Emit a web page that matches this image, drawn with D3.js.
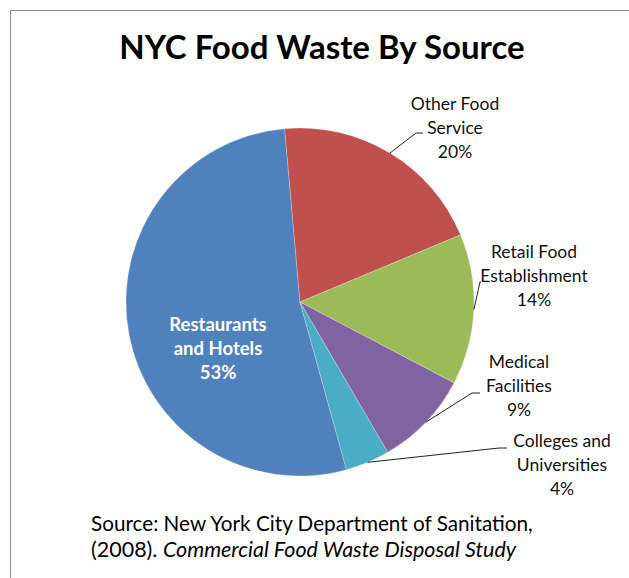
<!DOCTYPE html>
<html lang="en">
<head>
<meta charset="UTF-8">
<title>NYC Food Waste By Source</title>
<script src="https://d3js.org/d3.v7.min.js"></script>
<style>
  body {
    margin: 0;
    padding: 0;
    background-color: #ffffff;
    font-family: Lato, "Open Sans", sans-serif;
  }
  svg { display: block; }
  .label { font-size: 17.5px; fill: #111; }
</style>
</head>
<body>
<div id="chart"></div>
<script>
  // Data (clockwise, Restaurants first)
  const categories = ["Restaurants and Hotels", "Other Food Service", "Retail Food Establishment",
                      "Medical Facilities", "Colleges and Universities"];
  const shares = [52.9, 20.1, 14.0, 8.9, 4.1];
  const colors = ["#4F81BD", "#C0504D", "#9BBB59", "#8064A2", "#4BACC6"];

  // Label layout: text lines, anchor position, and where the leader line bends
  const labelLayout = [
    { lines: ["Restaurants", "and Hotels"], x: 218, y: 331, inside: true },
    { lines: ["Other Food", "Service"], x: 455, y: 110, elbow: [416, 133], end: [423, 133] },
    { lines: ["Retail Food", "Establishment"], x: 534, y: 258, elbow: [480, 282], end: [481, 282] },
    { lines: ["Medical", "Facilities"], x: 519, y: 368, elbow: [472, 393], end: [480, 393] },
    { lines: ["Colleges and", "Universities"], x: 562, y: 447, elbow: [499, 448], end: [507, 448] }
  ];

  const width = 629, height = 578;
  const cx = 300, cy = 302, radius = 174;
  const lineH = 24;
  const rot = 164.5 * Math.PI / 180;

  const svg = d3.select("#chart").append("svg")
      .attr("width", width)
      .attr("height", height);

  // chart frame
  svg.append("rect")
      .attr("x", 10.5).attr("y", 10.5)
      .attr("width", 800).attr("height", 800)
      .attr("fill", "#fff")
      .attr("stroke", "#8c8c8c")
      .attr("stroke-width", 1);

  svg.append("text")
      .attr("x", 322)
      .attr("y", 59)
      .attr("text-anchor", "middle")
      .style("font-size", "33px")
      .style("font-weight", "bold")
      .style("fill", "#000")
      .text("NYC Food Waste By Source");

  const data = categories.map((c, i) => ({ label: c, value: shares[i], color: colors[i], layout: labelLayout[i] }));

  const pie = d3.pie().value(d => d.value).sort(null)
      .startAngle(rot).endAngle(rot + 2 * Math.PI);
  const arc = d3.arc().innerRadius(0).outerRadius(radius);

  const g = svg.append("g").attr("transform", `translate(${cx},${cy})`);
  const arcs = pie(data);

  g.selectAll("path")
      .data(arcs)
      .enter()
      .append("path")
      .attr("d", arc)
      .attr("fill", d => d.data.color)
      .attr("stroke", "#fff")
      .attr("stroke-width", 0.4)
      .attr("stroke-opacity", 0.6);

  function midAngle(d) {
      return d.startAngle + (d.endAngle - d.startAngle) / 2;
  }

  // leader lines start on the rim at the slice's mid angle
  svg.selectAll("polyline")
      .data(arcs.filter(d => !d.data.layout.inside))
      .enter()
      .append("polyline")
      .attr("points", d => {
          const a = midAngle(d);
          const p = [cx + radius * Math.sin(a), cy - radius * Math.cos(a)];
          return [p, d.data.layout.elbow, d.data.layout.end].join(" ");
      })
      .attr("fill", "none")
      .attr("stroke", "#222")
      .attr("stroke-width", 1);

  const labels = svg.selectAll("text.label")
      .data(arcs)
      .enter()
      .append("text")
      .attr("class", "label")
      .attr("text-anchor", "middle")
      .style("font-weight", d => d.data.layout.inside ? "bold" : "normal")
      .style("font-size", d => d.data.layout.inside ? "18.5px" : null)
      .style("fill", d => d.data.layout.inside ? "#fff" : "#111");

  labels.each(function(d) {
      const t = d3.select(this);
      const L = d.data.layout;
      const lines = L.lines.concat([Math.round(d.data.value) + "%"]);
      lines.forEach((s, i) => {
          t.append("tspan")
              .attr("x", L.x)
              .attr("y", L.y + i * lineH)
              .text(s);
      });
  });

  // source note
  const src = svg.append("text")
      .attr("x", 91)
      .attr("y", 531)
      .style("font-size", "20.7px")
      .style("fill", "#000");
  src.append("tspan").text("Source: New York City Department of Sanitation,");
  const src2 = svg.append("text")
      .attr("x", 91)
      .attr("y", 557)
      .style("font-size", "21.5px")
      .style("fill", "#000");
  src2.append("tspan").text("(2008). ");
  src2.append("tspan").style("font-style", "italic").text("Commercial Food Waste Disposal Study");
</script>
</body>
</html>
